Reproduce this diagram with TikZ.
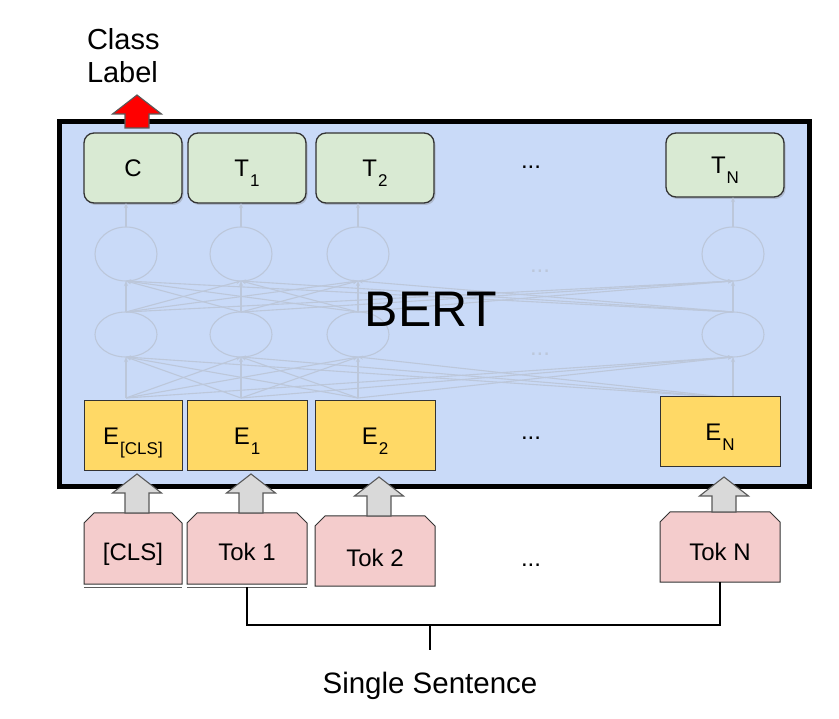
\documentclass[tikz,border=0pt]{standalone}
\usepackage{fontspec}
\setmainfont{Liberation Sans}
\usetikzlibrary{calc,shapes.geometric,arrows.meta,shadows}
\pgfdeclarelayer{bg}
\pgfsetlayers{bg,main}
\definecolor{bertblue}{HTML}{C9DAF8}
\definecolor{outgreen}{HTML}{D9EAD3}
\definecolor{embyellow}{HTML}{FFD966}
\definecolor{tokpink}{HTML}{F4CCCC}
\definecolor{arrgray}{HTML}{D9D9D9}
\definecolor{netc}{HTML}{BCC7DA}
\definecolor{darkline}{HTML}{333333}
\definecolor{redarrow}{HTML}{FF0000}
\newcommand\sub[1]{\kern1pt\raisebox{-10pt}[0pt][0pt]{\fontsize{17}{17}\selectfont #1}}
\newcommand\lowt[2]{\raisebox{-#1}[0pt][0pt]{#2}}
\newcommand\fatarrow[3]{%
  \draw[fatarr, fill=#3] let \p1=([xshift=4pt]#1), \p2=(#2) in
    (\x1-12pt,\y1) -- (\x1-12pt,\y2-19pt) -- (\x1-24.5pt,\y2-19pt) -- (\x1,\y2)
    -- (\x1+24.5pt,\y2-19pt) -- (\x1+12pt,\y2-19pt) -- (\x1+12pt,\y1) -- cycle;}
\newcommand\tokshape[1]{%
  \draw[tokshape] (#1.south west) -- ([yshift=-10pt]#1.north west) -- ([xshift=10pt]#1.north west)
    -- ([xshift=-10pt]#1.north east) -- ([yshift=-10pt]#1.north east) -- (#1.south east) -- cycle;}
\begin{document}
\begin{tikzpicture}[x=1pt,y=-1pt,
  every node/.style={inner sep=0pt, outer sep=0pt},
  mainbox/.style={draw=black, line width=5pt, fill=bertblue, minimum width=750pt, minimum height=365pt},
  outbox/.style={draw=darkline, line width=1.3pt, fill=outgreen, rounded corners=10pt,
     minimum height=70pt, drop shadow={shadow xshift=1.5pt, shadow yshift=-2pt, opacity=.35},
     font=\fontsize{24}{24}\selectfont},
  embbox/.style={draw=darkline, line width=1pt, fill=embyellow, minimum height=70pt,
     font=\fontsize{24}{24}\selectfont},
  tokbox/.style={minimum height=71pt, font=\fontsize{24}{24}\selectfont},
  tokshape/.style={draw=darkline, line width=1pt, fill=tokpink, line join=miter},
  tokshadow/.style={draw=darkline!80, line width=0.8pt},
  netnode/.style={ellipse, draw=netc, line width=1.1pt, minimum width=62pt, minimum height=54pt},
  netline/.style={draw=netc, line width=1.1pt, -{Stealth[length=5pt,width=4pt]}},
  fatarr/.style={draw=black!65, line width=1.1pt, line join=miter},
  dots/.style={font=\fontsize{24}{24}\selectfont},
  plain/.style={draw=black, line width=1.2pt},
  ]
\useasboundingbox (0,0) rectangle (839,719);

% main BERT box
\node[mainbox] (bert) at (434.5,304) {};

% faded network
\foreach \i/\x in {1/126,2/241,3/358,4/733} {
  \node[netnode] (u\i) at (\x,254) {};
  \node[netnode, minimum height=45pt] (l\i) at (\x,334.5) {};
  \coordinate (b\i) at (\x,398);
}
\foreach \i in {1,...,4} {
  \foreach \j in {1,...,4} {
    \draw[netline] (b\i) -- (l\j.south);
    \draw[netline] (l\i.north) -- (u\j.south);
  }
}
\node[dots, text=netc] (ndots1) at (540,271) {...};
\node[dots, text=netc] (ndots2) at (540,354) {...};

% output boxes
\node[outbox, minimum width=98pt] (C) at (133,168) {C};
\node[outbox, minimum width=118pt] (T1) at (247,168) {T\sub{1}};
\node[outbox, minimum width=118pt] (T2) at (375,168) {T\sub{2}};
\node[outbox, minimum width=118pt, minimum height=64pt] (TN) at (725,165) {T\sub{N}};
\node[dots] (tdots) at (531,167) {...};

\draw[netline] (u1.north) -- (u1.north |- C.south);
\draw[netline] (u2.north) -- (u2.north |- T1.south);
\draw[netline] (u3.north) -- (u3.north |- T2.south);
\draw[netline] (u4.north) -- (u4.north |- TN.south);

% embeddings
\node[embbox, minimum width=98pt] (ECLS) at (133,436) {E\sub{[CLS]}};
\node[embbox, minimum width=120pt] (E1) at (247,436) {E\sub{1}};
\node[embbox, minimum width=120pt] (E2) at (375,436) {E\sub{2}};
\node[embbox, minimum width=120pt] (EN) at (720,432) {E\sub{N}};
\node[dots] (edots) at (531,438) {...};

% BERT label
\node[font=\fontsize{50}{50}\selectfont] (bertlbl) at (431,309) {BERT};

% tokens
\node[tokbox, minimum width=98pt] (tcls) at (133,548.5) {\lowt{12.5pt}{[CLS]}};
\node[tokbox, minimum width=120pt] (tok1) at (247,548.5) {\lowt{12.5pt}{Tok 1}};
\node[tokbox, minimum width=120pt, minimum height=70pt] (tok2) at (375,551) {\lowt{15.5pt}{Tok 2}};
\node[tokbox, minimum width=120pt, minimum height=70pt] (tokN) at (720,547) {\lowt{13.5pt}{Tok N}};
\node[dots] (tokdots) at (531,565) {...};
\begin{pgfonlayer}{bg}
  \draw[tokshadow] ([yshift=-3pt]tcls.south west) -- ([yshift=-3pt]tcls.south east);
  \draw[tokshadow] ([yshift=-3pt]tok1.south west) -- ([yshift=-3pt]tok1.south east);
  \tokshape{tcls}
  \tokshape{tok1}
  \tokshape{tok2}
  \tokshape{tokN}
\end{pgfonlayer}

% fat arrows
\coordinate (eclsin) at ([yshift=-3pt]ECLS.south);
\coordinate (e1in) at ([yshift=-3pt]E1.south);
\coordinate (e2in) at ([yshift=-6pt]E2.south);
\coordinate (enin) at ([yshift=-10pt]EN.south);
\fatarrow{tcls.north}{eclsin}{arrgray}
\fatarrow{tok1.north}{e1in}{arrgray}
\fatarrow{tok2.north}{e2in}{arrgray}
\fatarrow{tokN.north}{enin}{arrgray}

% class label
\node[anchor=north west, align=left, font=\fontsize{29}{33}\selectfont] (clabel) at (87,28) {Class\\Label};
\coordinate (cltip) at (133,95);
\coordinate (cbase) at ([yshift=5pt]C.north);
\fatarrow{cbase}{cltip}{redarrow}

% single sentence bracket
\coordinate (brk) at (430,625);
\coordinate (tick) at (430,650);
\node[font=\fontsize{29.5}{30}\selectfont] (sent) at (430,686) {Single Sentence};
\draw[plain] ([yshift=-3pt]tok1.south) |- (brk) -| (tokN.south);
\draw[plain] (brk) -- (tick);
\end{tikzpicture}
\end{document}
